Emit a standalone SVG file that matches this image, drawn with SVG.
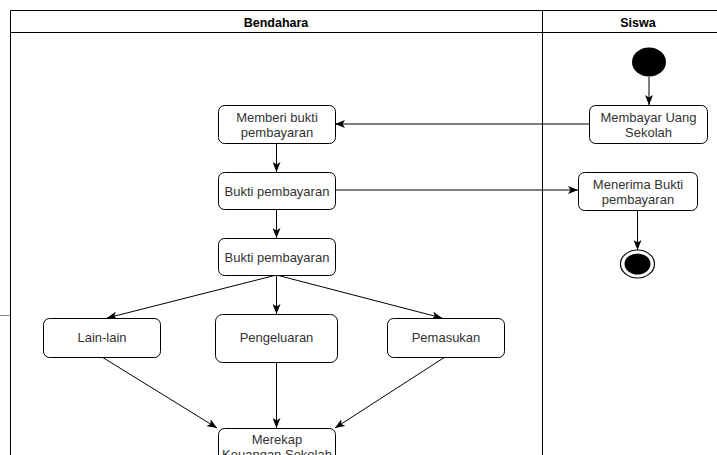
<svg xmlns="http://www.w3.org/2000/svg" width="717" height="455" viewBox="0 0 717 455">
<defs>
<marker id="arr" viewBox="0 0 10 8" refX="10" refY="4" markerWidth="10" markerHeight="8" markerUnits="userSpaceOnUse" orient="auto">
<path d="M0,0 L10,4 L0,8 L2.5,4 z" fill="#000"/>
</marker>
</defs>
<style>
.box{fill:#fff;stroke:#000;stroke-width:1}
.t{font-family:"Liberation Sans",Arial,sans-serif;font-size:13px;fill:#333;text-anchor:middle}
.h{font-family:"Liberation Sans",Arial,sans-serif;font-size:12.5px;font-weight:bold;fill:#000;text-anchor:middle}
.lane{fill:none;stroke:#000;stroke-width:1}
.c{fill:none;stroke:#000;stroke-width:1;marker-end:url(#arr)}
</style>
<rect width="717" height="455" fill="#fff"/>
<g id="swimlane">
<path class="lane" d="M10.5,460 V10.5 H720 M10.5,32.5 H720 M542.5,10.5 V460"/>
<line x1="0" y1="315.5" x2="10" y2="315.5" stroke="#888" stroke-width="1"/>
<text class="h" x="276" y="27">Bendahara</text>
<text class="h" x="638" y="27">Siswa</text>
</g>
<g id="connectors">
<line class="c" x1="649" y1="77" x2="649" y2="105"/>
<line class="c" x1="589" y1="124" x2="335" y2="124"/>
<line class="c" x1="276.5" y1="143" x2="276.5" y2="172"/>
<line class="c" x1="276.5" y1="209" x2="276.5" y2="238"/>
<line class="c" x1="335" y1="190" x2="578" y2="190"/>
<line class="c" x1="637.5" y1="210" x2="637.5" y2="250"/>
<line class="c" x1="276.5" y1="275" x2="107" y2="318"/>
<line class="c" x1="276.5" y1="275" x2="276.5" y2="314"/>
<line class="c" x1="276.5" y1="275" x2="442" y2="318"/>
<line class="c" x1="102" y1="357" x2="217" y2="428"/>
<line class="c" x1="276.5" y1="362" x2="276.5" y2="428"/>
<line class="c" x1="445" y1="357" x2="335" y2="428"/>
</g>
<g id="start">
<ellipse cx="649" cy="62" rx="17" ry="14.5" fill="#000"/>
</g>
<g id="membayar">
<rect class="box" x="589.5" y="105.5" width="118" height="38" rx="6"/>
<text class="t" x="648.5" y="122">Membayar Uang</text>
<text class="t" x="648.5" y="137">Sekolah</text>
</g>
<g id="memberi">
<rect class="box" x="218.5" y="105.5" width="117" height="38" rx="6"/>
<text class="t" x="277" y="122">Memberi bukti</text>
<text class="t" x="277" y="137">pembayaran</text>
</g>
<g id="bukti1">
<rect class="box" x="218.5" y="172.5" width="117" height="37" rx="6"/>
<text class="t" x="277" y="195.5">Bukti pembayaran</text>
</g>
<g id="menerima">
<rect class="box" x="578.5" y="172.5" width="119" height="38" rx="6"/>
<text class="t" x="638" y="189">Menerima Bukti</text>
<text class="t" x="638" y="204">pembayaran</text>
</g>
<g id="end">
<ellipse cx="637.5" cy="264" rx="17" ry="14" fill="#fff" stroke="#000" stroke-width="1.2"/>
<ellipse cx="637.5" cy="264" rx="13" ry="10.5" fill="#000"/>
</g>
<g id="bukti2">
<rect class="box" x="218.5" y="238.5" width="117" height="37" rx="6"/>
<text class="t" x="277" y="261.5">Bukti pembayaran</text>
</g>
<g id="lainlain">
<rect class="box" x="43.5" y="318.5" width="117" height="39" rx="6"/>
<text class="t" x="102" y="342">Lain-lain</text>
</g>
<g id="pengeluaran">
<rect class="box" x="215.5" y="314.5" width="122" height="48" rx="7"/>
<text class="t" x="276.5" y="342">Pengeluaran</text>
</g>
<g id="pemasukan">
<rect class="box" x="387.5" y="318.5" width="117" height="39" rx="6"/>
<text class="t" x="446" y="342">Pemasukan</text>
</g>
<g id="merekap">
<rect class="box" x="218.5" y="428.5" width="117" height="40" rx="6"/>
<text class="t" x="277" y="444">Merekap</text>
<text class="t" x="277" y="459">Keuangan Sekolah</text>
</g>
</svg>
